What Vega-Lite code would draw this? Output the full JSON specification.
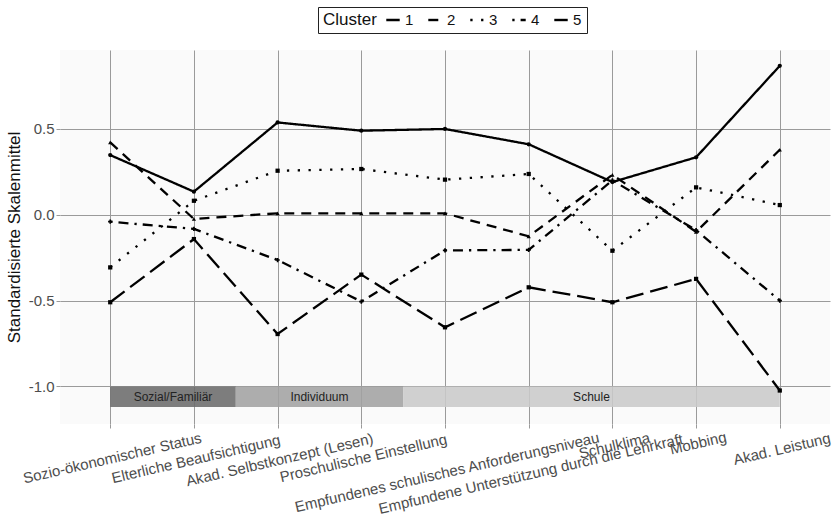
{
  "$schema": "https://vega.github.io/schema/vega-lite/v6.json",
  "width": 770,
  "height": 374,
  "autosize": "none",
  "padding": {"left": 60, "top": 50, "right": 4, "bottom": 99},
  "background": "white",
  "config": {
    "font": "Liberation Sans",
    "view": {"fill": "#fafafa", "stroke": null},
    "axis": {"gridColor": "#9a9a9a", "gridWidth": 1, "tickColor": "#9a9a9a", "domain": false, "labelColor": "#4d4d4d", "titleColor": "#111", "titleFontWeight": "normal"}
  },
  "datasets": {
    "lines": [
      {"cluster": "1", "variable": "Sozio-ökonomischer Status", "value": 0.347},
      {"cluster": "1", "variable": "Elterliche Beaufsichtigung", "value": 0.134},
      {"cluster": "1", "variable": "Akad. Selbstkonzept (Lesen)", "value": 0.537},
      {"cluster": "1", "variable": "Proschulische Einstellung", "value": 0.489},
      {"cluster": "1", "variable": "Empfundenes schulisches Anforderungsniveau", "value": 0.499},
      {"cluster": "1", "variable": "Empfundene Unterstützung durch die Lehrkraft", "value": 0.41},
      {"cluster": "1", "variable": "Schulklima", "value": 0.19},
      {"cluster": "1", "variable": "Mobbing", "value": 0.334},
      {"cluster": "1", "variable": "Akad. Leistung", "value": 0.867},
      {"cluster": "2", "variable": "Sozio-ökonomischer Status", "value": 0.421},
      {"cluster": "2", "variable": "Elterliche Beaufsichtigung", "value": -0.025},
      {"cluster": "2", "variable": "Akad. Selbstkonzept (Lesen)", "value": 0.008},
      {"cluster": "2", "variable": "Proschulische Einstellung", "value": 0.008},
      {"cluster": "2", "variable": "Empfundenes schulisches Anforderungsniveau", "value": 0.008},
      {"cluster": "2", "variable": "Empfundene Unterstützung durch die Lehrkraft", "value": -0.126},
      {"cluster": "2", "variable": "Schulklima", "value": 0.232},
      {"cluster": "2", "variable": "Mobbing", "value": -0.1},
      {"cluster": "2", "variable": "Akad. Leistung", "value": 0.378},
      {"cluster": "3", "variable": "Sozio-ökonomischer Status", "value": -0.307},
      {"cluster": "3", "variable": "Elterliche Beaufsichtigung", "value": 0.081},
      {"cluster": "3", "variable": "Akad. Selbstkonzept (Lesen)", "value": 0.256},
      {"cluster": "3", "variable": "Proschulische Einstellung", "value": 0.266},
      {"cluster": "3", "variable": "Empfundenes schulisches Anforderungsniveau", "value": 0.204},
      {"cluster": "3", "variable": "Empfundene Unterstützung durch die Lehrkraft", "value": 0.237},
      {"cluster": "3", "variable": "Schulklima", "value": -0.21},
      {"cluster": "3", "variable": "Mobbing", "value": 0.159},
      {"cluster": "3", "variable": "Akad. Leistung", "value": 0.056},
      {"cluster": "4", "variable": "Sozio-ökonomischer Status", "value": -0.041},
      {"cluster": "4", "variable": "Elterliche Beaufsichtigung", "value": -0.083},
      {"cluster": "4", "variable": "Akad. Selbstkonzept (Lesen)", "value": -0.264},
      {"cluster": "4", "variable": "Proschulische Einstellung", "value": -0.506},
      {"cluster": "4", "variable": "Empfundenes schulisches Anforderungsniveau", "value": -0.208},
      {"cluster": "4", "variable": "Empfundene Unterstützung durch die Lehrkraft", "value": -0.205},
      {"cluster": "4", "variable": "Schulklima", "value": 0.2},
      {"cluster": "4", "variable": "Mobbing", "value": -0.09},
      {"cluster": "4", "variable": "Akad. Leistung", "value": -0.5},
      {"cluster": "5", "variable": "Sozio-ökonomischer Status", "value": -0.51},
      {"cluster": "5", "variable": "Elterliche Beaufsichtigung", "value": -0.142},
      {"cluster": "5", "variable": "Akad. Selbstkonzept (Lesen)", "value": -0.695},
      {"cluster": "5", "variable": "Proschulische Einstellung", "value": -0.349},
      {"cluster": "5", "variable": "Empfundenes schulisches Anforderungsniveau", "value": -0.656},
      {"cluster": "5", "variable": "Empfundene Unterstützung durch die Lehrkraft", "value": -0.423},
      {"cluster": "5", "variable": "Schulklima", "value": -0.51},
      {"cluster": "5", "variable": "Mobbing", "value": -0.374},
      {"cluster": "5", "variable": "Akad. Leistung", "value": -1.024}
    ],
    "bands": [
      {"group": "Sozial/Familiär", "start": 1, "end": 2.5, "ymin": -1.0, "ymax": -1.12},
      {"group": "Individuum", "start": 2.5, "end": 4.5, "ymin": -1.0, "ymax": -1.12},
      {"group": "Schule", "start": 4.5, "end": 9, "ymin": -1.0, "ymax": -1.12}
    ]
  },
  "resolve": {"scale": {"x": "independent"}},
  "layer": [
    {
      "data": {"name": "bands"},
      "transform": [
        {"calculate": "(datum.start + datum.end) / 2", "as": "xmid"},
        {"calculate": "(datum.ymin + datum.ymax) / 2", "as": "ymid"}
      ],
      "layer": [
        {
          "mark": {"type": "rect", "fillOpacity": 0.88},
          "encoding": {
            "x": {"field": "start", "type": "quantitative", "scale": {"domain": [0.4, 9.6], "nice": false, "zero": false}, "axis": null},
            "x2": {"field": "end"},
            "y": {
              "field": "ymin", "type": "quantitative",
              "scale": {"domain": [-1.219, 0.959], "nice": false, "zero": false},
              "axis": {
                "title": "Standardisierte Skalenmittel", "titleFontSize": 17, "titlePadding": 5,
                "values": [-1, -0.5, 0, 0.5], "labelExpr": "replace(format(datum.value, '.1f'), '\u2212', '-')",
                "labelFontSize": 15, "tickSize": 4, "labelPadding": 2, "grid": true
              }
            },
            "y2": {"field": "ymax"},
            "fill": {"field": "group", "type": "nominal", "scale": {"domain": ["Sozial/Familiär", "Individuum", "Schule"], "range": ["#6b6b6b", "#a2a2a2", "#c9c9c9"]}, "legend": null}
          }
        },
        {
          "mark": {"type": "text", "fontSize": 12, "color": "#222", "baseline": "middle", "align": "center"},
          "encoding": {
            "x": {"field": "xmid", "type": "quantitative", "scale": {"domain": [0.4, 9.6], "nice": false, "zero": false}, "axis": null},
            "y": {
              "field": "ymid", "type": "quantitative",
              "axis": {
                "title": "Standardisierte Skalenmittel", "titleFontSize": 17, "titlePadding": 5,
                "values": [-1, -0.5, 0, 0.5], "labelExpr": "replace(format(datum.value, '.1f'), '\u2212', '-')",
                "labelFontSize": 15, "tickSize": 4, "labelPadding": 2, "grid": true
              }
            },
            "text": {"field": "group"}
          }
        }
      ]
    },
    {
      "data": {"name": "lines"},
      "encoding": {
        "x": {
          "field": "variable", "type": "ordinal",
          "scale": {"type": "point", "padding": 0.6, "domain": ["Sozio-ökonomischer Status", "Elterliche Beaufsichtigung", "Akad. Selbstkonzept (Lesen)", "Proschulische Einstellung", "Empfundenes schulisches Anforderungsniveau", "Empfundene Unterstützung durch die Lehrkraft", "Schulklima", "Mobbing", "Akad. Leistung"]},
          "axis": {
            "title": null, "grid": true, "tickSize": 4, "labelPadding": 2,
            "labelAngle": -13, "labelAlign": "center", "labelBaseline": "top",
            "labelFontSize": 15, "labelLimit": 0,
            "encoding": {"labels": {
              "dx": {"value": {"expr": "-0.0253 * length(datum.value) * 7.4"}},
              "dy": {"value": {"expr": "0.1096 * length(datum.value) * 7.4"}}
            }}
          }
        },
        "y": {
          "field": "value", "type": "quantitative",
          "scale": {"domain": [-1.219, 0.959], "nice": false, "zero": false},
          "axis": {
            "title": "Standardisierte Skalenmittel", "titleFontSize": 17, "titlePadding": 5,
            "values": [-1, -0.5, 0, 0.5], "labelExpr": "replace(format(datum.value, '.1f'), '\u2212', '-')",
            "labelFontSize": 15, "tickSize": 4, "labelPadding": 2, "grid": true
          }
        }
      },
      "layer": [
        {
          "mark": {"type": "line", "color": "black", "strokeWidth": 2.3},
          "encoding": {
            "strokeDash": {
              "field": "cluster", "type": "nominal",
              "scale": {"domain": ["1", "2", "3", "4", "5"], "range": [[1, 0], [10, 7], [2.3, 8.5], [2.3, 6, 10, 6], [18, 7]]},
              "legend": {
                "title": "Cluster", "orient": "none", "legendX": 258, "legendY": -43,
                "direction": "horizontal", "columns": 5, "titleOrient": "left",
                "titleFontSize": 17, "titleFontWeight": "normal", "titleColor": "#111", "titleBaseline": "middle",
                "labelFontSize": 15, "labelColor": "#111",
                "symbolType": "stroke", "symbolSize": 180, "symbolStrokeWidth": 2.4, "symbolStrokeColor": "black",
                "strokeColor": "#222", "fillColor": "white", "padding": 5, "columnPadding": 9, "labelOffset": 4, "titlePadding": 8
              }
            },
            "detail": {"field": "cluster"}
          }
        },
        {
          "transform": [{"calculate": "'C' + datum.cluster", "as": "pointkey"}],
          "mark": {"type": "point", "filled": true, "color": "black", "size": 18, "opacity": 1},
          "encoding": {
            "shape": {"field": "pointkey", "type": "nominal", "scale": {"domain": ["C1", "C2", "C3", "C4", "C5"], "range": ["circle", "triangle-up", "square", "cross", "square"]}, "legend": null}
          }
        }
      ]
    }
  ]
}
